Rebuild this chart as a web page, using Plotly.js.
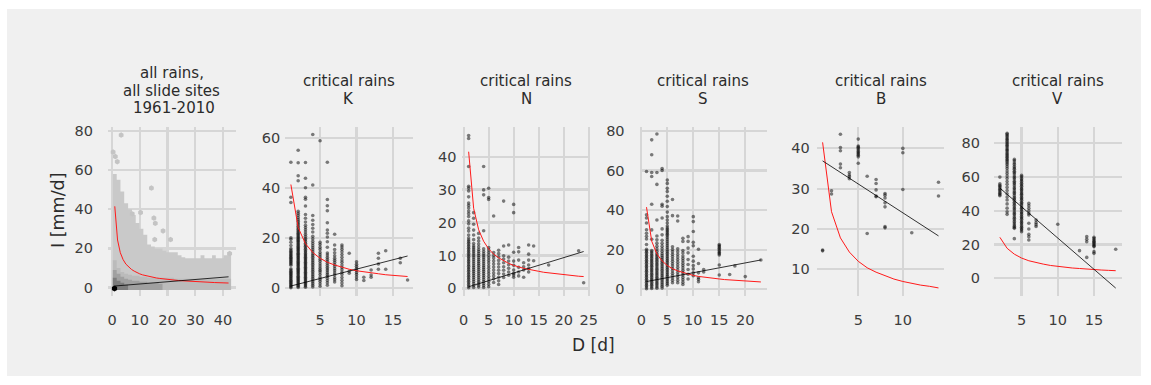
<!DOCTYPE html>
<html>
<head>
<meta charset="utf-8">
<script src="https://cdn.plot.ly/plotly-3.0.1.min.js"></script>
<style>
  html, body { margin: 0; padding: 0; background: #ffffff; }
  #chart { width: 1151px; height: 385px; }
</style>
</head>
<body>
<div id="chart"></div>
<script>
// ---------------- data ----------------
// facet strip titles
const facetTitles = [
  ["all rains,", "all slide sites", "1961-2010"],
  ["critical rains", "K"],
  ["critical rains", "N"],
  ["critical rains", "S"],
  ["critical rains", "B"],
  ["critical rains", "V"]
];

// all rains: hexbin density, summarised as column tops of the shaded bands
const hexColD   = [1,2.4,3.7,5.1,6.5,7.9,9.2,10.6,12,13.4,14.7,16.1,17.5,18.9,20.2,21.6,23,24.4,25.7,27.1,28.5,29.9,31.2,32.6,34,35.4,36.7,38.1,39.5,40.9,42.2];
const hexBodyTop = [58,55,49,43,40,37,33,30,27,22,21,20,20,19,18,18,18,16.5,15.5,15,15,15,15,16.5,15,15,16.5,15,15,16.5,18];
const hexLowTop  = [14,10,8,7,6.5,6,6,5.5,5.5,5,5,5,5,5,5,5,4.5,4.5,4.5,4.5,4.5,4.5,4.5,4.5,4.5,4.5,4.5,4.5,4.5,4.5,4.5];
const hexMidD    = [1,2.4,3.7,5.1,6.5,7.9,9.2,10.6,12,13.4,14.7,16.1,17.5];
const hexMidTop  = [9,7,5.5,4.5,4,3.5,3.5,3,3,2.5,2.5,2.5,2];
const hexDarkD   = [1,2.4,3.7,5.1];
const hexDarkTop = [5,3.5,2.5,1.5];
const hexOutD = [3.3,0.4,1.2,1.9,14.2,10.3,7.3,15.1,15.6,18.4,15.4,21.1,42.4];
const hexOutI = [77.9,69.2,66.9,64.3,50.8,38.3,37.6,35.5,32.8,28.9,24.5,24.5,17.4];
const hexPeakD = [0.9];
const hexPeakI = [-0.5];

// critical rains K: duration [d] and intensities [mm/d] per duration
const kDays = [1,2,3,4,5,6,7,8,9,10,11,12,13,14,16,17];
const kRain = [
  [0.2,0.6,1,1.4,1.9,2.3,2.8,3.2,3.7,4.1,4.6,5,5.5,5.9,6.4,6.8,7.3,7.8,9.2,9.7,10.1,10.6,11,11.5,12,12.4,12.9,13.3,13.8,14.3,14.8,15.3,15.9,17.1,18.4,19.6,20.2,34.3,36.4,50.4],
  [0.3,0.8,1.2,1.7,2.1,2.6,3,3.5,3.9,4.4,4.8,5.3,5.8,6.2,6.7,7.1,7.6,8,8.5,9,9.4,9.9,10.3,10.8,11.3,11.7,12.2,12.6,13.1,13.6,14,14.5,15,15.4,15.9,16.3,16.8,17.3,17.7,18.2,18.7,19.1,19.6,20.1,20.5,21,21.5,22,22.5,23,23.6,24.2,24.8,25.5,26.1,26.8,27.5,28.3,29.2,30,30.8,43,45,50.2,55.2],
  [0.4,0.9,1.4,1.9,2.4,2.9,3.4,3.9,4.4,4.9,5.4,5.9,6.4,6.9,7.4,7.9,8.4,8.9,9.4,9.9,10.4,10.9,11.4,11.9,12.4,12.9,13.4,13.9,14.5,15,15.6,16.2,16.8,17.4,18,18.7,19.4,20,20.8,21.6,22.5,23.4,24.3,25.2,26.5,28,29.5,32.9,35.6,36.4,40.2,44,50.3],
  [0.5,1.2,1.9,2.6,3.3,4,4.7,5.4,6.1,6.8,7.5,8.2,8.9,9.6,10.3,11,11.7,12.4,13.1,13.8,14.6,15.4,16.2,17,17.9,18.8,19.8,20.8,22.5,24,25.5,27.2,29.1,41.3,61.5],
  [0.8,1.8,2.8,3.6,4.4,5.5,6.5,7.2,8,8.9,9.8,10.8,11.6,12.5,13.4,14.3,15.5,16.4,17.5,18.4,59],
  [1.2,2.2,3.1,4,4.8,5.5,6.2,7,7.7,8.4,9.2,10,10.8,11.6,12.4,13.3,14.1,16.4,18.6,20.5,22,23.3,26.2,31,33,35.5,50.4],
  [2.5,3.4,4.2,5.3,6.1,7,7.8,8.7,9.5,10.4,11.2,12,13,14.2,15.5,17.3,21.6],
  [1,2.1,3.2,4.3,5.5,6.4,7.4,8.3,9.3,10.4,11.3,12.4,13.5,14.6,15.6,16.5,17.3],
  [6,6.8,14],
  [3.5,4.5,5.5,6.3,7.2,8,8.8,9.6,10.6],
  [3.1,4.4],
  [4.4,5.3,7.3],
  [7.6,9.7,12,14],
  [7.6,15],
  [10.2,12],
  [3.3]
];

// critical rains N
const nDays = [1,2,3,4,5,6,7,8,9,10,11,12,13,14,17,23,24];
const nRain = [
  [0.2,0.7,1.2,1.7,2.2,2.7,3.2,3.7,4.2,4.7,5.2,5.7,6.2,6.7,7.2,7.7,8.2,8.7,9.2,9.7,10.2,10.7,11.2,11.7,12.2,12.7,13.2,13.7,14.2,14.7,15.3,16.2,17.4,18.3,19.6,20.5,21.8,22.7,23.5,24.4,25.2,25.9,27.8,29.6,30.5,31,37,45.5,46.4],
  [0.3,0.9,1.5,2.1,2.7,3.3,3.9,4.5,5.1,5.7,6.3,6.9,7.5,8.1,8.7,9.3,9.9,10.5,11.1,11.7,12.3,12.9,13.6,14.8,16.2,17.7,19.5,21.3,23],
  [0.4,1,1.6,2.2,2.8,3.4,4,4.6,5.2,5.8,6.4,7,7.6,8.2,8.8,9.4,10,10.6,11.2,11.8,12.6,13.5,14.4,15.3,16.7],
  [0.3,0.9,1.5,2.1,2.7,3.3,3.9,4.5,5.1,5.7,6.3,6.9,7.5,8.1,8.7,9.3,9.9,10.5,11.2,12,17.5,28.4,29.9,37],
  [0.5,1.3,2.1,2.9,3.7,4.5,5.3,6.1,6.9,7.7,8.5,9.3,10.1,10.9,11.7,12.4,27,27.6,30.4],
  [1.8,2.9,3.8,4.7,5.6,6.5,7.4,8.3,9.2,10,10.9,22],
  [1.2,2.3,3.4,4.5,5.5,6.5,7.5,8.5,9.6,10.6,11.6],
  [3.3,4.4,5.5,6.6,7.8,8.9,9.9,12.9,26.5],
  [4,5,6.1,7.2,8.3,9.5,13.2],
  [3.4,4.1,4.6,5.6,7,8.3,11,23,25.5],
  [3.8,5,6.4,8.6,11.1,12.4],
  [3.4,5.6,6.6,7.8],
  [5,6,7.1,8.6,10.4,13.2],
  [8.4,12.9],
  [7.1],
  [11.4],
  [1.7]
];

// critical rains S
const sDays = [1,2,3,4,5,6,7,8,9,10,11,12,15,17,18,20,23];
const sRain = [
  [0.3,1.1,1.9,2.7,3.5,4.3,5.1,5.9,6.7,7.5,8.3,9.1,9.9,10.7,11.5,12.3,13.1,13.9,14.7,15.5,16.3,17.1,17.9,18.7,19.5,20.2,22.6,25.4,26.8,28.3,30.1,33.5,36,37.6,59.5],
  [0.4,1.2,2,2.8,3.6,4.4,5.2,6,6.8,7.6,8.4,9.2,10,10.8,11.6,12.4,13.2,14,14.8,15.6,16.4,17.2,18,18.8,19.6,25.3,30,43,57,59,68,75.5],
  [0.5,1.3,2.1,2.9,3.7,4.5,5.3,6.1,6.9,7.7,8.5,9.3,10.1,10.9,11.7,12.5,13.3,14.1,14.9,15.7,16.5,17.3,18.1,19.2,20.4,21.8,23.3,25,26.9,35,53,59,78.5],
  [0.6,1.5,2.4,3.3,4.2,5.1,6,6.9,7.8,8.7,9.6,10.5,11.4,12.3,13.2,14.1,15,16,17,18,19.2,20.5,21.8,23.2,24.8,27.5,30.5,36,42,43,60,61],
  [2,2.9,3.8,4.7,5.6,6.5,7.4,8.3,9.2,10.1,11,11.9,12.8,13.7,14.6,15.5,16.4,17.3,18.2,19.1,20,21,22,23,24,25,26,27,27.8,28.6,29.4,30.2,31,32,33.5,35,36.7,39,41.8,44.5,47,49.4,51,53.5,55.2],
  [3.3,4.5,5.7,6.9,8.1,9.3,10.5,11.7,12.9,14.1,15.3,16.5,17.7,18.9,20.1,21.5,37.2,45.4],
  [3.3,4.6,5.9,7.2,8.5,9.8,11.1,12.4,13.7,15,16.3,17.6,19,20.5,34.5,37],
  [2.4,3.6,4.8,6,7.2,8.4,9.6,10.8,12,13.2,14.4,15.6,16.8,18.3,19.6,24.2,25.8],
  [5.2,7.6,10,12.5,15,18.4,20.8,24.2,26.6],
  [6.8,8.3,10.3,12,14.2,16.7,22,23.7,29.2,34.2,36.7],
  [3.8,5,5.8,8.3,13,20.2],
  [8.7,10],
  [7.2,12.3,17.3,18,18.6,19.3,20,20.7,21.4,22,22.6],
  [7.5],
  [11.8],
  [6.4],
  [14.8]
];

// critical rains B
const bDays = [1,2,3,4,5,6,7,8,10,11,14];
const bRain = [
  [14.6,14.8],
  [29.5,28.7],
  [43.5,40.2,39.4,36.1,35.2],
  [34,33.4,33,32.5],
  [42.3,40.6,40.3,40,39.6,39.2,38.9,38.6,38.3,37.9,36.3],
  [33.1,18.9],
  [32.3,31.3,29.7,28.2,28],
  [28.8,28.4,27.7,26.5,25.5,20.6,20.3],
  [40,38.9,29.8],
  [19.1],
  [31.6,28.2]
];

// critical rains V
const vDays = [2,3,4,5,6,7,10,13,14,15,18];
const vRain = [
  [60,56,55.2,54.4,53.6,52.8,52,51.2,50.4,49.6,49],
  [86,85.3,84.5,83.7,82.8,82.1,81.3,80.4,79.6,78.9,78.1,77.2,76.4,75.7,74.9,74,73.2,72.5,71.7,70.8,70.1,69.3,68.4,67.5,66.3,65.1,63.6,62.2,60.6,59.1,57.4,55.8,53.9,52,50.1,48.2,46.4,44.1,41.6,39.4,37.9],
  [70.5,69.6,68.4,67.5,66.3,65.4,64.6,63.5,62.7,61.8,60.6,59.7,58.8,57.6,56.7,55.9,54.8,53.7,52.9,51.8,50.9,50.1,49,47.9,47.1,46.2,45.1,44.2,43.3,42.2,41.4,40.5,39.3,38.4,37.6,36.5,35.6,34.7,33.6,32.8,31.7,30.9,30.1,29.6,23.5],
  [61,60.2,59.1,58.3,57.4,56.3,55.5,54.6,53.5,52.7,51.8,50.7,49.9,49,47.9,47.1,46.2,45.1,44.3,43.4,42.3,41.5,40.6,39.5,38.7,37.8,36.7,35.9,35,33.9,33.1,32.2,31.1,30.3,29.4,28.6,27.6],
  [44.4,43,41.5,40,38.5,37.5,32.6,29.2,26.1,24.7,22.7],
  [34.6,33,31.8,30.7],
  [32],
  [16.4],
  [24.7,23.1,21.7,12.4],
  [24.3,23.5,22.7,22,21.3,20.6,19.9,19.2,18.8,15.8,14.8],
  [17.2]
];

// intensity-duration threshold curve (red)
const threshD = [1,2,3,4,5,6,7,8,9,10,11,12,13,14,15,16,17,18,19,20,21,22,23,24,25,28,31,34,37,40,42];
const threshI = [41.5,24.3,17.8,14.3,12,10.4,9.3,8.4,7.6,7,6.5,6.1,5.8,5.4,5.2,4.9,4.7,4.5,4.3,4.1,4,3.8,3.7,3.6,3.5,3.2,2.95,2.75,2.57,2.42,2.33];
// duration span of each facet
const facetDmin = [1,1,1,1,1,2];
const facetDmax = [42,17,24,23,14,18];

// linear fits (black), end points per facet
const fitD0 = [1,1,1,1,1,2];
const fitI0 = [0.8,0.9,0.5,3.9,36.9,53.5];
const fitD1 = [42,17,24,23,14,18];
const fitI1 = [5.5,12.9,11.2,14.8,18.3,-5.8];

// axis breaks per facet
const xTicks = [[0,10,20,30,40],[5,10,15],[0,5,10,15,20,25],[0,5,10,15,20],[5,10],[5,10,15]];
const yTicks = [[0,20,40,60,80],[0,20,40,60],[0,10,20,30,40],[0,20,40,60,80],[10,20,30,40],[0,20,40,60,80]];

// ---------------- layout geometry ----------------
const W = 1151, H = 385;
const fx = p => p / W;
const fy = p => 1 - p / H;
const panelLeft = [108, 285.2, 462.4, 639.6, 816.8, 994];
const panelW = 127.5, panelTop = 127, panelBottom = 296;
const xRanges = [[-1.44,44.5],[0.22,17.7],[-0.25,25.25],[-0.33,24.2],[0.35,14.65],[1.19,18.8]];
const yRanges = [[-4.3,82],[-3.1,64.5],[-2.3,49],[-3.4,82],[3.4,45.3],[-10.5,89.7]];
const yStandoff = [14,4,5,14,6,13];

const FONT = '"DejaVu Sans", Verdana, sans-serif';
const TICK_COLOR = '#3c3c3c';
const TEXT_COLOR = '#2b2b2b';
const GRID = '#d6d6d6';

const traces = [];
const axisId = i => (i === 0 ? '' : String(i + 1));

// closed step polygon from column centres and tops, down to a base level
function bandPolygon(cols, tops, half, base) {
  const a = cols[0] - half, b = cols[cols.length - 1] + half;
  const xs = [a, a].concat(cols, [b, b]);
  const ys = [base, tops[0]].concat(tops, [tops[tops.length - 1], base]);
  return {x: xs, y: ys};
}

// --- all rains hexbin summary (facet 1)
const hexBands = [
  {cols: hexColD, tops: hexBodyTop, color: '#c9c9c9'},
  {cols: hexColD, tops: hexLowTop, color: '#bbbbbb'},
  {cols: hexMidD, tops: hexMidTop, color: '#a0a0a0'},
  {cols: hexDarkD, tops: hexDarkTop, color: '#7c7c7c'}
];
hexBands.forEach(bd => {
  const p = bandPolygon(bd.cols, bd.tops, 0.7, -1.2);
  traces.push({
    type: 'scatter', mode: 'lines', x: p.x, y: p.y,
    line: {width: 0, shape: 'hvh'}, fill: 'toself', fillcolor: bd.color,
    xaxis: 'x', yaxis: 'y', hoverinfo: 'skip', showlegend: false
  });
});
traces.push({
  type: 'scatter', mode: 'markers', x: hexOutD, y: hexOutI,
  marker: {symbol: 'hexagon', size: 5.5, color: '#c4c4c4'},
  xaxis: 'x', yaxis: 'y', hoverinfo: 'skip', showlegend: false
});
traces.push({
  type: 'scatter', mode: 'markers', x: hexPeakD, y: hexPeakI,
  marker: {symbol: 'hexagon', size: 6, color: '#000000'},
  xaxis: 'x', yaxis: 'y', hoverinfo: 'skip', showlegend: false
});

// --- critical rains scatter (facets 2-6)
const pointSets = [[kDays, kRain], [nDays, nRain], [sDays, sRain], [bDays, bRain], [vDays, vRain]];
pointSets.forEach((set, k) => {
  const days = set[0], rains = set[1];
  const xs = [], ys = [];
  days.forEach((d, j) => rains[j].forEach(v => { xs.push(d); ys.push(v); }));
  const id = axisId(k + 1);
  traces.push({
    type: 'scatter', mode: 'markers', x: xs, y: ys,
    marker: {size: 3.6, color: 'rgba(0,0,0,0.5)', line: {width: 0}},
    xaxis: 'x' + id, yaxis: 'y' + id, hoverinfo: 'skip', showlegend: false
  });
});

// --- threshold curve and linear fit in every facet
for (let i = 0; i < 6; i++) {
  const id = axisId(i);
  const tx = [], ty = [];
  threshD.forEach((d, j) => {
    if (d >= facetDmin[i] && d <= facetDmax[i]) { tx.push(d); ty.push(threshI[j]); }
  });
  traces.push({
    type: 'scatter', mode: 'lines', x: tx, y: ty,
    line: {color: '#ff1a1a', width: 1},
    xaxis: 'x' + id, yaxis: 'y' + id, hoverinfo: 'skip', showlegend: false
  });
  traces.push({
    type: 'scatter', mode: 'lines', x: [fitD0[i], fitD1[i]], y: [fitI0[i], fitI1[i]],
    line: {color: '#000000', width: 0.8},
    xaxis: 'x' + id, yaxis: 'y' + id, hoverinfo: 'skip', showlegend: false
  });
}

// ---------------- layout ----------------
const layout = {
  width: W, height: H,
  margin: {l: 0, r: 0, t: 0, b: 0},
  paper_bgcolor: '#ffffff',
  plot_bgcolor: 'rgba(0,0,0,0)',
  showlegend: false,
  font: {family: FONT, color: TICK_COLOR, size: 14},
  shapes: [{
    type: 'rect', xref: 'paper', yref: 'paper',
    x0: fx(7), x1: fx(1141), y0: fy(376), y1: fy(9),
    fillcolor: '#f0f0f0', line: {width: 0}, layer: 'below'
  }],
  annotations: []
};

for (let i = 0; i < 6; i++) {
  const id = axisId(i);
  layout['xaxis' + id] = {
    domain: [fx(panelLeft[i]), fx(panelLeft[i] + panelW)],
    range: xRanges[i], tickvals: xTicks[i], ticktext: xTicks[i].map(String),
    showgrid: true, gridcolor: GRID, gridwidth: 2.2,
    zeroline: false, showline: false, ticks: '',
    ticklabelstandoff: 13,
    tickfont: {family: FONT, size: 14.5, color: TICK_COLOR},
    anchor: 'y' + id, fixedrange: true
  };
  layout['yaxis' + id] = {
    domain: [fy(panelBottom), fy(panelTop)],
    range: yRanges[i], tickvals: yTicks[i], ticktext: yTicks[i].map(String),
    showgrid: true, gridcolor: GRID, gridwidth: 2.2,
    zeroline: false, showline: false, ticks: '',
    ticklabelstandoff: yStandoff[i],
    tickfont: {family: FONT, size: 14.5, color: TICK_COLOR},
    anchor: 'x' + id, fixedrange: true
  };

  // strip titles, one annotation per line
  const cx = panelLeft[i] + panelW / 2;
  const lines = facetTitles[i];
  const lineY = lines.length === 3 ? [72.5, 90.5, 107.5] : [81, 99];
  lines.forEach((t, j) => {
    layout.annotations.push({
      text: t, xref: 'paper', yref: 'paper',
      x: fx(cx), y: fy(lineY[j]), xanchor: 'center', yanchor: 'middle',
      xshift: (lines.length === 3 && j === 2) ? 2 : 0,
      showarrow: false, font: {family: FONT, size: 15, color: TEXT_COLOR}
    });
  });
}

// shared axis titles
layout.annotations.push({
  text: 'D [d]', xref: 'paper', yref: 'paper',
  x: fx(593), y: fy(345), xanchor: 'center', yanchor: 'middle',
  showarrow: false, font: {family: FONT, size: 17, color: TEXT_COLOR}
});
layout.annotations.push({
  text: 'I [mm/d]', xref: 'paper', yref: 'paper',
  x: fx(58), y: fy(211), xanchor: 'center', yanchor: 'middle', textangle: -90,
  showarrow: false, font: {family: FONT, size: 17.5, color: TEXT_COLOR}
});

Plotly.newPlot('chart', traces, layout, {staticPlot: true, displayModeBar: false});
</script>
</body>
</html>
